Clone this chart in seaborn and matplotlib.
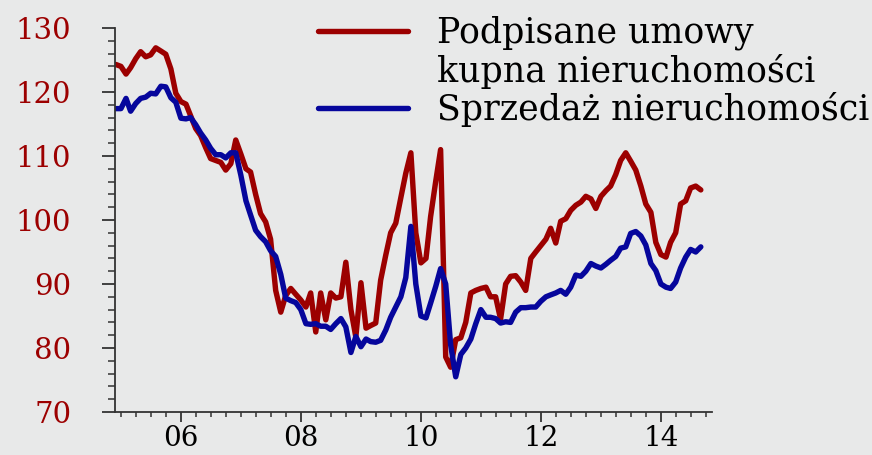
import pandas as pd
import matplotlib
matplotlib.use("Agg")
import matplotlib.pyplot as plt
import matplotlib.dates as mdates
from matplotlib.lines import Line2D
from matplotlib.ticker import MultipleLocator
import seaborn as sns

# monthly data, Dec 2004 - Sep 2014
months = pd.date_range("2004-12-01", periods=118, freq="MS")

signed_contracts = [
    124.3, 124.0, 122.8, 123.8, 125.2, 126.3, 125.5, 125.8, 126.9, 126.4,
    125.9, 123.6, 119.8, 118.5, 118.1, 116.3, 114.3, 113.2, 111.3, 109.6,
    109.3, 109.0, 107.8, 108.8, 112.5, 110.3, 108.0, 107.5, 104.0, 101.0,
    99.7, 97.0, 89.0, 85.6, 88.2, 89.3, 88.4, 87.5, 86.4, 88.6,
    82.5, 88.6, 84.4, 88.6, 87.8, 88.0, 93.4, 86.0, 81.7, 90.2,
    83.1, 83.5, 83.9, 90.6, 94.5, 98.0, 99.5, 103.5, 107.3, 110.5,
    98.0, 93.3, 94.0, 100.5, 106.0, 111.0, 78.6, 77.0, 81.3, 81.6,
    84.0, 88.6, 89.0, 89.3, 89.5, 88.0, 88.0, 84.5, 90.0, 91.2,
    91.3, 90.3, 89.0, 94.0, 95.0, 96.0, 97.0, 98.7, 96.4, 99.8,
    100.2, 101.5, 102.3, 102.8, 103.7, 103.3, 101.8, 103.7, 104.6, 105.3,
    107.1, 109.3, 110.5, 109.2, 107.8, 105.3, 102.5, 101.2, 96.5, 94.6,
    94.2, 96.5, 98.0, 102.5, 103.0, 105.0, 105.3, 104.7,
]

sales = [
    117.4, 117.4, 119.0, 117.0, 118.2, 119.0, 119.2, 119.8, 119.7, 120.9,
    120.8, 119.1, 118.4, 115.9, 115.8, 116.0, 114.9, 113.6, 112.5, 111.2,
    110.2, 110.2, 109.7, 110.5, 110.5, 107.0, 103.0, 100.8, 98.4, 97.4,
    96.6, 95.2, 94.3, 91.5, 87.8, 87.4, 87.1, 86.0, 83.8, 83.7,
    83.8, 83.4, 83.4, 82.9, 83.8, 84.6, 83.3, 79.3, 81.8, 80.2,
    81.4, 81.0, 80.9, 81.2, 82.8, 84.8, 86.4, 88.0, 91.0, 99.0,
    90.0, 85.0, 84.7, 87.0, 89.6, 92.4, 90.0, 80.5, 75.5, 79.0,
    80.0, 81.4, 83.8, 86.0, 84.8, 84.8, 84.6, 83.9, 84.1, 84.0,
    85.6, 86.3, 86.3, 86.4, 86.4, 87.3, 88.0, 88.3, 88.6, 89.0,
    88.4, 89.5, 91.4, 91.2, 92.0, 93.2, 92.8, 92.5, 93.1, 93.7,
    94.3, 95.6, 95.8, 97.9, 98.2, 97.5, 96.1, 93.2, 92.1, 90.0,
    89.5, 89.3, 90.3, 92.5, 94.2, 95.4, 95.0, 95.8,
]

series_names = ["Podpisane umowy kupna nieruchomości", "Sprzedaż nieruchomości"]
legend_labels = ["Podpisane umowy", "kupna nieruchomości", "Sprzedaż nieruchomości"]

RED = "#9c0000"
BLUE = "#06069c"
BG = "#e8e9e9"

df = pd.DataFrame({"date": months,
                   series_names[0]: signed_contracts,
                   series_names[1]: sales})
long_df = df.melt(id_vars="date", var_name="series", value_name="value")

sns.set_theme(style="ticks", rc={"figure.facecolor": BG, "axes.facecolor": BG})
plt.rcParams["font.family"] = ["DejaVu Serif", "DejaVu Sans"]

fig = plt.figure(figsize=(8.72, 4.55), dpi=100)
ax = fig.add_axes([0.1319, 0.0945, 0.6846, 0.844])

sns.lineplot(data=long_df, x="date", y="value", hue="series",
             palette=[RED, BLUE], linewidth=3.9, legend=False, ax=ax)

ax.set_xlim(pd.Timestamp("2004-11-26"), pd.Timestamp("2014-11-08"))
ax.set_ylim(70, 130)
ax.set_xlabel("")
ax.set_ylabel("")

ax.yaxis.set_major_locator(MultipleLocator(10))
ax.yaxis.set_minor_locator(MultipleLocator(2))
ax.xaxis.set_major_locator(mdates.YearLocator(2))
ax.xaxis.set_minor_locator(mdates.MonthLocator(bymonth=[1, 4, 7, 10]))
ax.xaxis.set_major_formatter(mdates.DateFormatter("%y"))

sns.despine(ax=ax)
for side in ["left", "bottom"]:
    ax.spines[side].set_color("#333333")
    ax.spines[side].set_linewidth(1.3)

ax.tick_params(axis="y", which="major", length=9.5, width=1.3, color="#333333",
               labelsize=21, labelcolor=RED, pad=22)
ax.tick_params(axis="y", which="minor", length=5, width=1.1, color="#333333")
ax.tick_params(axis="x", which="major", length=7.5, width=1.3, color="#333333",
               labelsize=20, labelcolor="black", pad=2)
ax.tick_params(axis="x", which="minor", length=3.5, width=1.1, color="#333333")

# legend: second row is the continuation of the first label
handles = [Line2D([], [], color=RED, linewidth=3.9),
           Line2D([], [], color="none"),
           Line2D([], [], color=BLUE, linewidth=3.9)]
fig.legend(handles, legend_labels, loc="upper left",
           bbox_to_anchor=(0.3647, 0.965), frameon=False, borderpad=0,
           borderaxespad=0, fontsize=25, handlelength=2.6,
           handletextpad=0.83, labelspacing=0.1, labelcolor="black")

fig.savefig("out.png", dpi=100, facecolor=BG)
